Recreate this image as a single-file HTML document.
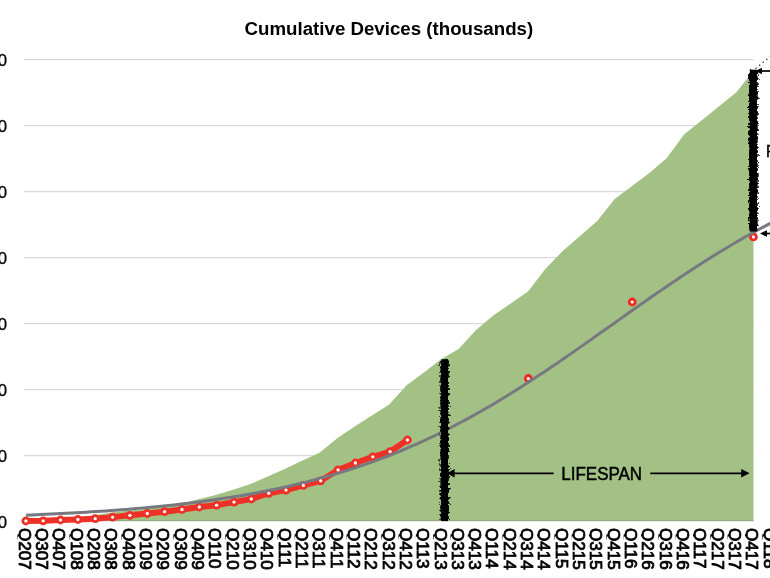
<!DOCTYPE html>
<html><head><meta charset="utf-8"><title>Cumulative Devices (thousands)</title>
<style>
html,body{margin:0;padding:0;background:#fff;}
body{width:770px;height:578px;overflow:hidden;}
svg{display:block;font-family:"Liberation Sans",sans-serif;}
</style></head><body>
<svg width="770" height="578" viewBox="0 0 770 578">
<defs>
<filter id="rough" x="-60%" y="-3%" width="220%" height="106%">
<feTurbulence type="fractalNoise" baseFrequency="0.42" numOctaves="3" seed="7" result="n"/>
<feDisplacementMap in="SourceGraphic" in2="n" scale="6.5" xChannelSelector="R" yChannelSelector="G"/>
</filter>
</defs>
<rect width="770" height="578" fill="#fff"/>

<line x1="24" x2="753.7" y1="59.6" y2="59.6" stroke="#dadada" stroke-width="1.4"/>
<line x1="24" x2="753.7" y1="125.6" y2="125.6" stroke="#dadada" stroke-width="1.4"/>
<line x1="24" x2="753.7" y1="191.6" y2="191.6" stroke="#dadada" stroke-width="1.4"/>
<line x1="24" x2="753.7" y1="257.6" y2="257.6" stroke="#dadada" stroke-width="1.4"/>
<line x1="24" x2="753.7" y1="323.6" y2="323.6" stroke="#dadada" stroke-width="1.4"/>
<line x1="24" x2="753.7" y1="389.6" y2="389.6" stroke="#dadada" stroke-width="1.4"/>
<line x1="24" x2="753.7" y1="455.6" y2="455.6" stroke="#dadada" stroke-width="1.4"/>
<line x1="24" x2="753.7" y1="520.8" y2="520.8" stroke="#dadada" stroke-width="1.4"/>
<text style="opacity:0.999" x="7.0" y="65.9" font-size="16.8" text-anchor="end" fill="#000" stroke="#000" stroke-width="0.3">00,000</text>
<text style="opacity:0.999" x="7.0" y="131.9" font-size="16.8" text-anchor="end" fill="#000" stroke="#000" stroke-width="0.3">00,000</text>
<text style="opacity:0.999" x="7.0" y="197.9" font-size="16.8" text-anchor="end" fill="#000" stroke="#000" stroke-width="0.3">00,000</text>
<text style="opacity:0.999" x="7.0" y="263.9" font-size="16.8" text-anchor="end" fill="#000" stroke="#000" stroke-width="0.3">00,000</text>
<text style="opacity:0.999" x="7.0" y="329.9" font-size="16.8" text-anchor="end" fill="#000" stroke="#000" stroke-width="0.3">00,000</text>
<text style="opacity:0.999" x="7.0" y="395.9" font-size="16.8" text-anchor="end" fill="#000" stroke="#000" stroke-width="0.3">00,000</text>
<text style="opacity:0.999" x="7.0" y="461.9" font-size="16.8" text-anchor="end" fill="#000" stroke="#000" stroke-width="0.3">00,000</text>
<text style="opacity:0.999" x="7.0" y="527.9" font-size="16.8" text-anchor="end" fill="#000" stroke="#000" stroke-width="0.3">0</text>
<path d="M25,520.7 L25.0,521.0 L42.3,520.3 L59.7,519.3 L77.0,517.6 L94.4,515.2 L111.7,512.6 L129.1,510.6 L146.4,508.8 L163.8,506.6 L181.1,503.4 L198.4,499.3 L215.8,495.0 L233.1,489.8 L250.5,484.1 L267.8,476.4 L285.2,468.7 L302.5,460.5 L319.9,452.4 L337.2,438.2 L354.6,426.6 L371.9,415.5 L389.2,404.5 L406.6,385.3 L423.9,372.5 L441.3,359.0 L458.6,349.0 L476.0,330.0 L493.3,315.5 L510.7,303.5 L528.0,291.5 L545.3,269.0 L562.7,251.0 L580.0,236.0 L597.4,220.7 L614.7,199.0 L632.1,186.0 L649.4,173.1 L666.8,158.0 L684.1,134.5 L701.5,120.4 L718.8,106.5 L736.1,92.5 L753.5,71.0 L753.5,520.7 Z" fill="#a3c184"/>
<line x1="24" x2="753.5" y1="520.5" y2="520.5" stroke="#93a980" stroke-width="1"/>
<polyline points="25.9,521.0 43.2,520.8 60.5,520.0 77.9,519.5 95.2,518.7 112.6,517.1 129.9,515.3 147.3,513.5 164.6,511.7 182.0,509.5 199.3,507.0 216.6,505.2 234.0,502.1 251.3,499.0 268.7,493.3 286.0,490.1 303.4,485.4 320.7,480.8 338.1,469.9 355.4,463.0 372.8,456.8 390.1,451.6 407.4,440.0" fill="none" stroke="#ee3026" stroke-width="5.9" stroke-linejoin="round" stroke-linecap="round"/>
<circle cx="25.9" cy="521.0" r="4.4" fill="#ee3026"/>
<circle cx="43.2" cy="520.8" r="4.4" fill="#ee3026"/>
<circle cx="60.5" cy="520.0" r="4.4" fill="#ee3026"/>
<circle cx="77.9" cy="519.5" r="4.4" fill="#ee3026"/>
<circle cx="95.2" cy="518.7" r="4.4" fill="#ee3026"/>
<circle cx="112.6" cy="517.1" r="4.4" fill="#ee3026"/>
<circle cx="129.9" cy="515.3" r="4.4" fill="#ee3026"/>
<circle cx="147.3" cy="513.5" r="4.4" fill="#ee3026"/>
<circle cx="164.6" cy="511.7" r="4.4" fill="#ee3026"/>
<circle cx="182.0" cy="509.5" r="4.4" fill="#ee3026"/>
<circle cx="199.3" cy="507.0" r="4.4" fill="#ee3026"/>
<circle cx="216.6" cy="505.2" r="4.4" fill="#ee3026"/>
<circle cx="234.0" cy="502.1" r="4.4" fill="#ee3026"/>
<circle cx="251.3" cy="499.0" r="4.4" fill="#ee3026"/>
<circle cx="268.7" cy="493.3" r="4.4" fill="#ee3026"/>
<circle cx="286.0" cy="490.1" r="4.4" fill="#ee3026"/>
<circle cx="303.4" cy="485.4" r="4.4" fill="#ee3026"/>
<circle cx="320.7" cy="480.8" r="4.4" fill="#ee3026"/>
<circle cx="338.1" cy="469.9" r="4.4" fill="#ee3026"/>
<circle cx="355.4" cy="463.0" r="4.4" fill="#ee3026"/>
<circle cx="372.8" cy="456.8" r="4.4" fill="#ee3026"/>
<circle cx="390.1" cy="451.6" r="4.4" fill="#ee3026"/>
<circle cx="407.4" cy="440.0" r="4.4" fill="#ee3026"/>
<circle cx="528.3" cy="378.5" r="4.4" fill="#ee2a22"/>
<circle cx="632.2" cy="302" r="4.4" fill="#ee2a22"/>
<circle cx="753.4" cy="236.9" r="4.4" fill="#ee2a22"/>
<polyline points="26,515.13 31,514.93 36,514.72 41,514.51 46,514.28 51,514.05 56,513.81 61,513.56 66,513.30 71,513.03 76,512.76 81,512.47 86,512.17 91,511.86 96,511.55 101,511.22 106,510.88 111,510.52 116,510.16 121,509.78 126,509.39 131,508.99 136,508.57 141,508.13 146,507.69 151,507.22 156,506.75 161,506.25 166,505.74 171,505.21 176,504.66 181,504.10 186,503.51 191,502.91 196,502.28 201,501.64 206,500.97 211,500.28 216,499.57 221,498.83 226,498.07 231,497.29 236,496.48 241,495.65 246,494.78 251,493.90 256,492.98 261,492.03 266,491.06 271,490.05 276,489.01 281,487.94 286,486.84 291,485.70 296,484.53 301,483.33 306,482.09 311,480.81 316,479.49 321,478.14 326,476.75 331,475.32 336,473.85 341,472.34 346,470.78 351,469.18 356,467.54 361,465.86 366,464.13 371,462.36 376,460.54 381,458.67 386,456.76 391,454.80 396,452.80 401,450.74 406,448.64 411,446.49 416,444.29 421,442.04 426,439.74 431,437.39 436,435.00 441,432.55 446,430.05 451,427.51 456,424.92 461,422.27 466,419.58 471,416.85 476,414.06 481,411.23 486,408.36 491,405.44 496,402.47 501,399.46 506,396.41 511,393.32 516,390.19 521,387.03 526,383.82 531,380.58 536,377.31 541,374.01 546,370.67 551,367.31 556,363.92 561,360.50 566,357.07 571,353.61 576,350.13 581,346.64 586,343.13 591,339.61 596,336.08 601,332.55 606,329.01 611,325.46 616,321.92 621,318.37 626,314.83 631,311.30 636,307.78 641,304.27 646,300.77 651,297.28 656,293.81 661,290.37 666,286.94 671,283.54 676,280.16 681,276.81 686,273.49 691,270.21 696,266.95 701,263.73 706,260.55 711,257.40 716,254.29 721,251.22 726,248.19 731,245.21 736,242.27 741,239.37 746,236.52 751,233.71 756,230.95 761,228.24 766,225.57 771,222.96" fill="none" stroke="#777980" stroke-width="3" stroke-linecap="butt" stroke-linejoin="round"/>
<circle cx="25.9" cy="521.0" r="1.65" fill="#fff"/>
<circle cx="43.2" cy="520.8" r="1.65" fill="#fff"/>
<circle cx="60.5" cy="520.0" r="1.65" fill="#fff"/>
<circle cx="77.9" cy="519.5" r="1.65" fill="#fff"/>
<circle cx="95.2" cy="518.7" r="1.65" fill="#fff"/>
<circle cx="112.6" cy="517.1" r="1.65" fill="#fff"/>
<circle cx="129.9" cy="515.3" r="1.65" fill="#fff"/>
<circle cx="147.3" cy="513.5" r="1.65" fill="#fff"/>
<circle cx="164.6" cy="511.7" r="1.65" fill="#fff"/>
<circle cx="182.0" cy="509.5" r="1.65" fill="#fff"/>
<circle cx="199.3" cy="507.0" r="1.65" fill="#fff"/>
<circle cx="216.6" cy="505.2" r="1.65" fill="#fff"/>
<circle cx="234.0" cy="502.1" r="1.65" fill="#fff"/>
<circle cx="251.3" cy="499.0" r="1.65" fill="#fff"/>
<circle cx="268.7" cy="493.3" r="1.65" fill="#fff"/>
<circle cx="286.0" cy="490.1" r="1.65" fill="#fff"/>
<circle cx="303.4" cy="485.4" r="1.65" fill="#fff"/>
<circle cx="320.7" cy="480.8" r="1.65" fill="#fff"/>
<circle cx="338.1" cy="469.9" r="1.65" fill="#fff"/>
<circle cx="355.4" cy="463.0" r="1.65" fill="#fff"/>
<circle cx="372.8" cy="456.8" r="1.65" fill="#fff"/>
<circle cx="390.1" cy="451.6" r="1.65" fill="#fff"/>
<circle cx="407.4" cy="440.0" r="1.65" fill="#fff"/>
<circle cx="528.3" cy="378.5" r="1.6" fill="#fff"/>
<circle cx="632.2" cy="302" r="1.6" fill="#fff"/>
<circle cx="753.4" cy="236.9" r="1.6" fill="#fff"/>
<rect x="441.2" y="359.3" width="6.8" height="161.8" fill="#000"/><rect x="749.8" y="69.7" width="7" height="161.8" fill="#000"/>
<g filter="url(#rough)"><rect x="440.4" y="360.3" width="8.4" height="159.7" fill="#000"/><rect x="749.1" y="71" width="8.6" height="159.3" fill="#000"/></g>
<line x1="755.46" y1="68.59" x2="773.3" y2="54.05" stroke="#444" stroke-width="1.4" stroke-dasharray="1.4 3.25" />
<g stroke="#000" stroke-width="1.7" fill="#000">
<line x1="452" x2="553.7" y1="473.3" y2="473.3"/><polygon points="446.8,473.3 454.6,469.1 454.6,477.5" stroke="none"/>
<line x1="650.3" x2="744" y1="473.3" y2="473.3"/><polygon points="749.6,473.3 741.2,469 741.2,477.6" stroke="none"/>
<line x1="760" x2="772" y1="71" y2="71"/><polygon points="755.2,71 762,67.8 762,74.2" stroke="none"/>
<line x1="765" x2="772" y1="233.5" y2="233.5"/><polygon points="760,233.5 767,230.2 767,236.8" stroke="none"/>
</g>
<text style="opacity:0.999" x="561.3" y="479.6" font-size="18" textLength="80.8" lengthAdjust="spacingAndGlyphs" fill="#000" stroke="#000" stroke-width="0.5">LIFESPAN</text>
<text style="opacity:0.999" x="765.8" y="156.7" font-size="17.1" fill="#000" stroke="#000" stroke-width="0.3">REPLACEMENTS</text>
<text style="opacity:0.999" x="388.9" y="35.0" font-size="18.9" font-weight="bold" text-anchor="middle" textLength="288.6" lengthAdjust="spacingAndGlyphs" fill="#000">Cumulative Devices (thousands)</text>
<clipPath id="lc"><rect x="-2" y="-14" width="60" height="15.4"/></clipPath>
<g style="opacity:0.999">
<g transform="translate(18.85,527.9) rotate(90) scale(0.975,0.945)"><text clip-path="url(#lc)" font-size="17.6" fill="#000" stroke="#000" stroke-width="0.85">Q207</text></g>
<g transform="translate(36.17,527.9) rotate(90) scale(0.975,0.945)"><text clip-path="url(#lc)" font-size="17.6" fill="#000" stroke="#000" stroke-width="0.85">Q307</text></g>
<g transform="translate(53.49,527.9) rotate(90) scale(0.975,0.945)"><text clip-path="url(#lc)" font-size="17.6" fill="#000" stroke="#000" stroke-width="0.85">Q407</text></g>
<g transform="translate(70.81,527.9) rotate(90) scale(0.975,0.945)"><text clip-path="url(#lc)" font-size="17.6" fill="#000" stroke="#000" stroke-width="0.85">Q108</text></g>
<g transform="translate(88.13,527.9) rotate(90) scale(0.975,0.945)"><text clip-path="url(#lc)" font-size="17.6" fill="#000" stroke="#000" stroke-width="0.85">Q208</text></g>
<g transform="translate(105.45,527.9) rotate(90) scale(0.975,0.945)"><text clip-path="url(#lc)" font-size="17.6" fill="#000" stroke="#000" stroke-width="0.85">Q308</text></g>
<g transform="translate(122.77,527.9) rotate(90) scale(0.975,0.945)"><text clip-path="url(#lc)" font-size="17.6" fill="#000" stroke="#000" stroke-width="0.85">Q408</text></g>
<g transform="translate(140.09,527.9) rotate(90) scale(0.975,0.945)"><text clip-path="url(#lc)" font-size="17.6" fill="#000" stroke="#000" stroke-width="0.85">Q109</text></g>
<g transform="translate(157.41,527.9) rotate(90) scale(0.975,0.945)"><text clip-path="url(#lc)" font-size="17.6" fill="#000" stroke="#000" stroke-width="0.85">Q209</text></g>
<g transform="translate(174.73,527.9) rotate(90) scale(0.975,0.945)"><text clip-path="url(#lc)" font-size="17.6" fill="#000" stroke="#000" stroke-width="0.85">Q309</text></g>
<g transform="translate(192.05,527.9) rotate(90) scale(0.975,0.945)"><text clip-path="url(#lc)" font-size="17.6" fill="#000" stroke="#000" stroke-width="0.85">Q409</text></g>
<g transform="translate(209.37,527.9) rotate(90) scale(0.975,0.945)"><text clip-path="url(#lc)" font-size="17.6" fill="#000" stroke="#000" stroke-width="0.85">Q110</text></g>
<g transform="translate(226.69,527.9) rotate(90) scale(0.975,0.945)"><text clip-path="url(#lc)" font-size="17.6" fill="#000" stroke="#000" stroke-width="0.85">Q210</text></g>
<g transform="translate(244.01,527.9) rotate(90) scale(0.975,0.945)"><text clip-path="url(#lc)" font-size="17.6" fill="#000" stroke="#000" stroke-width="0.85">Q310</text></g>
<g transform="translate(261.33,527.9) rotate(90) scale(0.975,0.945)"><text clip-path="url(#lc)" font-size="17.6" fill="#000" stroke="#000" stroke-width="0.85">Q410</text></g>
<g transform="translate(278.65,527.9) rotate(90) scale(0.975,0.945)"><text clip-path="url(#lc)" font-size="17.6" fill="#000" stroke="#000" stroke-width="0.85">Q111</text></g>
<g transform="translate(295.97,527.9) rotate(90) scale(0.975,0.945)"><text clip-path="url(#lc)" font-size="17.6" fill="#000" stroke="#000" stroke-width="0.85">Q211</text></g>
<g transform="translate(313.29,527.9) rotate(90) scale(0.975,0.945)"><text clip-path="url(#lc)" font-size="17.6" fill="#000" stroke="#000" stroke-width="0.85">Q311</text></g>
<g transform="translate(330.61,527.9) rotate(90) scale(0.975,0.945)"><text clip-path="url(#lc)" font-size="17.6" fill="#000" stroke="#000" stroke-width="0.85">Q411</text></g>
<g transform="translate(347.93,527.9) rotate(90) scale(0.975,0.945)"><text clip-path="url(#lc)" font-size="17.6" fill="#000" stroke="#000" stroke-width="0.85">Q112</text></g>
<g transform="translate(365.25,527.9) rotate(90) scale(0.975,0.945)"><text clip-path="url(#lc)" font-size="17.6" fill="#000" stroke="#000" stroke-width="0.85">Q212</text></g>
<g transform="translate(382.57,527.9) rotate(90) scale(0.975,0.945)"><text clip-path="url(#lc)" font-size="17.6" fill="#000" stroke="#000" stroke-width="0.85">Q312</text></g>
<g transform="translate(399.89,527.9) rotate(90) scale(0.975,0.945)"><text clip-path="url(#lc)" font-size="17.6" fill="#000" stroke="#000" stroke-width="0.85">Q412</text></g>
<g transform="translate(417.21,527.9) rotate(90) scale(0.975,0.945)"><text clip-path="url(#lc)" font-size="17.6" fill="#000" stroke="#000" stroke-width="0.85">Q113</text></g>
<g transform="translate(434.53,527.9) rotate(90) scale(0.975,0.945)"><text clip-path="url(#lc)" font-size="17.6" fill="#000" stroke="#000" stroke-width="0.85">Q213</text></g>
<g transform="translate(451.85,527.9) rotate(90) scale(0.975,0.945)"><text clip-path="url(#lc)" font-size="17.6" fill="#000" stroke="#000" stroke-width="0.85">Q313</text></g>
<g transform="translate(469.17,527.9) rotate(90) scale(0.975,0.945)"><text clip-path="url(#lc)" font-size="17.6" fill="#000" stroke="#000" stroke-width="0.85">Q413</text></g>
<g transform="translate(486.49,527.9) rotate(90) scale(0.975,0.945)"><text clip-path="url(#lc)" font-size="17.6" fill="#000" stroke="#000" stroke-width="0.85">Q114</text></g>
<g transform="translate(503.81,527.9) rotate(90) scale(0.975,0.945)"><text clip-path="url(#lc)" font-size="17.6" fill="#000" stroke="#000" stroke-width="0.85">Q214</text></g>
<g transform="translate(521.13,527.9) rotate(90) scale(0.975,0.945)"><text clip-path="url(#lc)" font-size="17.6" fill="#000" stroke="#000" stroke-width="0.85">Q314</text></g>
<g transform="translate(538.45,527.9) rotate(90) scale(0.975,0.945)"><text clip-path="url(#lc)" font-size="17.6" fill="#000" stroke="#000" stroke-width="0.85">Q414</text></g>
<g transform="translate(555.77,527.9) rotate(90) scale(0.975,0.945)"><text clip-path="url(#lc)" font-size="17.6" fill="#000" stroke="#000" stroke-width="0.85">Q115</text></g>
<g transform="translate(573.09,527.9) rotate(90) scale(0.975,0.945)"><text clip-path="url(#lc)" font-size="17.6" fill="#000" stroke="#000" stroke-width="0.85">Q215</text></g>
<g transform="translate(590.41,527.9) rotate(90) scale(0.975,0.945)"><text clip-path="url(#lc)" font-size="17.6" fill="#000" stroke="#000" stroke-width="0.85">Q315</text></g>
<g transform="translate(607.73,527.9) rotate(90) scale(0.975,0.945)"><text clip-path="url(#lc)" font-size="17.6" fill="#000" stroke="#000" stroke-width="0.85">Q415</text></g>
<g transform="translate(625.05,527.9) rotate(90) scale(0.975,0.945)"><text clip-path="url(#lc)" font-size="17.6" fill="#000" stroke="#000" stroke-width="0.85">Q116</text></g>
<g transform="translate(642.37,527.9) rotate(90) scale(0.975,0.945)"><text clip-path="url(#lc)" font-size="17.6" fill="#000" stroke="#000" stroke-width="0.85">Q216</text></g>
<g transform="translate(659.69,527.9) rotate(90) scale(0.975,0.945)"><text clip-path="url(#lc)" font-size="17.6" fill="#000" stroke="#000" stroke-width="0.85">Q316</text></g>
<g transform="translate(677.01,527.9) rotate(90) scale(0.975,0.945)"><text clip-path="url(#lc)" font-size="17.6" fill="#000" stroke="#000" stroke-width="0.85">Q416</text></g>
<g transform="translate(694.33,527.9) rotate(90) scale(0.975,0.945)"><text clip-path="url(#lc)" font-size="17.6" fill="#000" stroke="#000" stroke-width="0.85">Q117</text></g>
<g transform="translate(711.65,527.9) rotate(90) scale(0.975,0.945)"><text clip-path="url(#lc)" font-size="17.6" fill="#000" stroke="#000" stroke-width="0.85">Q217</text></g>
<g transform="translate(728.97,527.9) rotate(90) scale(0.975,0.945)"><text clip-path="url(#lc)" font-size="17.6" fill="#000" stroke="#000" stroke-width="0.85">Q317</text></g>
<g transform="translate(746.29,527.9) rotate(90) scale(0.975,0.945)"><text clip-path="url(#lc)" font-size="17.6" fill="#000" stroke="#000" stroke-width="0.85">Q417</text></g>
<g transform="translate(763.61,527.9) rotate(90) scale(0.975,0.945)"><text clip-path="url(#lc)" font-size="17.6" fill="#000" stroke="#000" stroke-width="0.85">Q118</text></g>
</g>
</svg></body></html>
